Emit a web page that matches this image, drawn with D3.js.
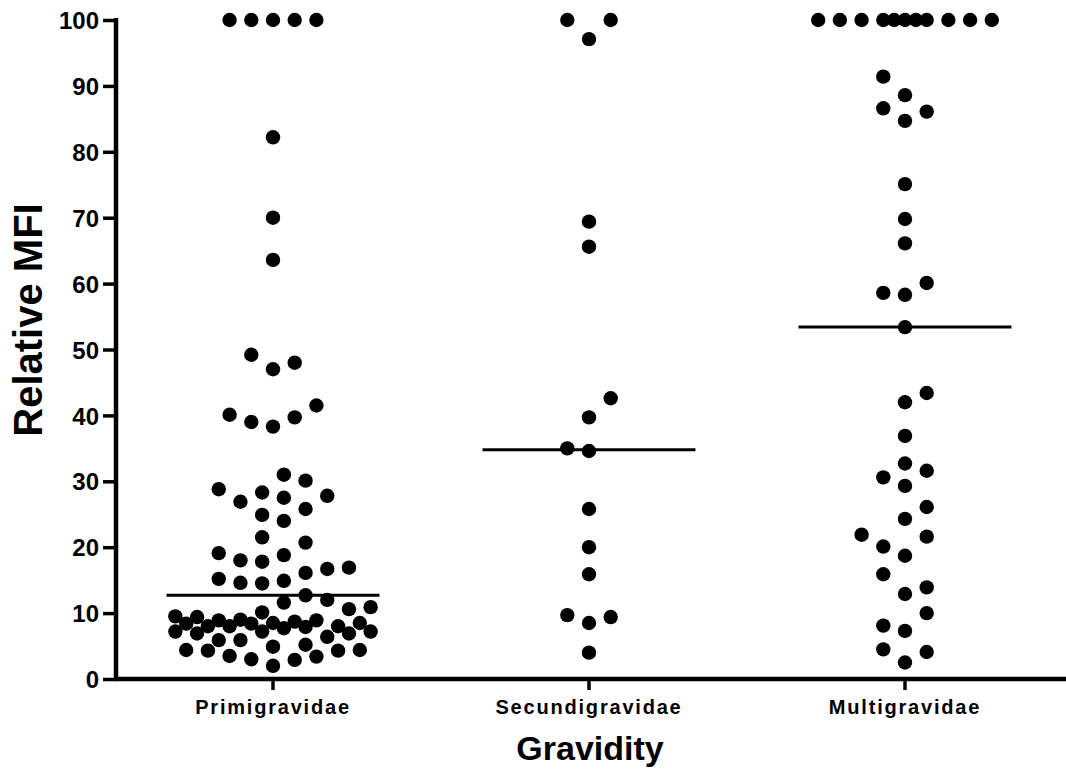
<!DOCTYPE html>
<html>
<head>
<meta charset="utf-8">
<script src="https://cdn.jsdelivr.net/npm/d3@7"></script>
<style>
  html, body { margin: 0; padding: 0; background: #fff; }
  svg { display: block; }
  text { font-family: Arial, "Liberation Sans", Helvetica, sans-serif; font-weight: bold; fill: #000; }
</style>
</head>
<body>
<svg id="chart" width="1066" height="773"></svg>
<script>
// ---- data ----
const categories = ["Primigravidae", "Secundigravidae", "Multigravidae"];
const primigravidae = [
  100, 100, 100, 100, 100,
  82.2, 70.0, 63.6,
  49.2, 48.0, 47.0,
  41.5, 40.1, 39.7, 39.0, 38.3,
  31.0, 30.1,
  28.8, 28.3, 27.8, 27.5, 26.9,
  25.8, 24.9, 24.0,
  21.5, 20.7,
  19.1, 18.8, 18.0, 17.8, 16.9, 16.7, 16.1,
  15.2, 14.9, 14.6, 14.5,
  12.7, 12.0, 11.6,
  10.9, 10.6, 10.1,
  9.5, 9.4, 9.0, 8.9, 8.9, 8.7,
  8.5, 8.5, 8.4, 8.4, 8.0, 8.0, 8.0, 7.9, 7.7,
  7.2, 7.2, 7.2, 6.9, 6.9, 6.4,
  5.9, 5.9, 5.2, 4.9,
  4.4, 4.4, 4.3, 4.3,
  3.5, 3.4, 3.0, 2.9, 2.0
];
const secundigravidae = [
  100, 100, 97.1, 69.4, 65.6, 42.6, 39.7, 35.0, 34.6,
  25.8, 20.0, 15.9, 9.7, 9.4, 8.5, 4.0
];
const multigravidae = [
  100, 100, 100, 100, 100, 100, 100, 100, 100, 100, 100,
  91.4, 88.6, 86.6, 86.1, 84.7, 75.1,
  69.8, 66.1, 60.1, 58.6, 58.3, 53.4,
  43.4, 42.0,
  36.9, 32.7, 31.6, 30.6, 29.3, 26.1, 24.3, 21.9, 21.6, 20.1,
  18.7, 15.9, 13.9, 12.9, 10.0, 8.1, 7.3, 4.5, 4.1, 2.5
];
const seriesValues = [primigravidae, secundigravidae, multigravidae];
const yTickValues = [0, 10, 20, 30, 40, 50, 60, 70, 80, 90, 100];
const yTitle = "Relative MFI";
const xTitle = "Gravidity";

// ---- layout ----
const svg = d3.select("#chart");
const y = d3.scaleLinear().domain([0, 100]).range([679, 20]);
const x = d3.scaleBand().domain(categories).range([115, 1063]).paddingInner(0).paddingOuter(0);
const cx = c => x(c) + x.bandwidth() / 2;

const R = 7.2;          // dot radius
const SLOT = 10.85;     // horizontal grid step (half of dot spacing)
const SPACE = 21.7;     // preferred spacing between neighbouring dots
const MAXK = 9;         // widest allowed offset, in grid steps

// scatter spreading (points placed in value order on a horizontal grid,
// compressed when there is no free room within the column width)
function swarm(values) {
  const pts = values.map(v => ({ v, py: y(v) })).sort((a, b) => a.v - b.v);
  const placed = [];
  let pref = 1;
  const isFree = (c, py) => placed.every(q =>
    Math.abs(c - q.dx) >= SPACE - 1e-6 || Math.abs(py - q.py) >= SPACE - 1e-6);
  const minDist = (c, py) => placed.reduce((m, q) => Math.min(m, Math.hypot(c - q.dx, py - q.py)), Infinity);
  for (const p of pts) {
    let chosen = null;
    for (let k = 0; k <= MAXK && chosen === null; k++) {
      if (k === 0) {
        if (isFree(0, p.py)) chosen = 0;
      } else {
        const fl = isFree(-k * SLOT, p.py);
        const fr = isFree(k * SLOT, p.py);
        if (fl && fr) {
          if (k <= 2) { chosen = pref * k * SLOT; pref = -pref; }
          else chosen = -pref * k * SLOT;
        }
        else if (fl) chosen = -k * SLOT;
        else if (fr) chosen = k * SLOT;
      }
    }
    if (chosen === null) {
      let best = -1;
      for (let k = 0; k <= MAXK; k++) {
        const sides = k === 0 ? [0] : [pref * k * SLOT, -pref * k * SLOT];
        for (const c of sides) {
          const d = minDist(c, p.py);
          if (d > best + 1e-6) { best = d; chosen = c; }
        }
      }
    }
    p.dx = chosen;
    placed.push(p);
  }
  return placed;
}

// y axis
const yAxis = d3.axisLeft(y).tickValues(yTickValues).tickSize(13).tickPadding(4).tickSizeOuter(0);
const gy = svg.append("g").attr("transform", "translate(116,0)").call(yAxis);
gy.select(".domain").attr("stroke", "#000").attr("stroke-width", 4.5).attr("d", "M0,18V681");
gy.selectAll(".tick line").attr("stroke", "#000").attr("stroke-width", 3.5);
gy.selectAll(".tick text").style("font-size", "24px").attr("dy", "0.36em");

// x axis
const xAxis = d3.axisBottom(x).tickSize(11).tickPadding(6).tickSizeOuter(0);
const gx = svg.append("g").attr("transform", "translate(0,679)").call(xAxis);
gx.select(".domain").attr("stroke", "#000").attr("stroke-width", 4.5).attr("d", "M114,0H1070");
gx.selectAll(".tick line").attr("stroke", "#000").attr("stroke-width", 3.5);
gx.selectAll(".tick text").style("font-size", "20px").style("letter-spacing", "1.8px").attr("dy", "0.9em");

// titles
svg.append("text").attr("x", 590).attr("y", 760).attr("text-anchor", "middle")
  .style("font-size", "34px").text(xTitle);
svg.append("text").attr("transform", "translate(42,320) rotate(-90)").attr("text-anchor", "middle")
  .style("font-size", "40px").text(yTitle);

// dots and medians
categories.forEach((cat, i) => {
  const vals = seriesValues[i];
  const pts = swarm(vals);
  const g = svg.append("g");
  g.selectAll("circle").data(pts).join("circle")
    .attr("cx", d => cx(cat) + d.dx)
    .attr("cy", d => d.py)
    .attr("r", R)
    .attr("fill", "#000");
  const med = d3.median(vals);
  const half = x.bandwidth() * 0.337;
  g.append("line")
    .attr("x1", cx(cat) - half).attr("x2", cx(cat) + half)
    .attr("y1", y(med)).attr("y2", y(med))
    .attr("stroke", "#000").attr("stroke-width", 3);
});
</script>
</body>
</html>
